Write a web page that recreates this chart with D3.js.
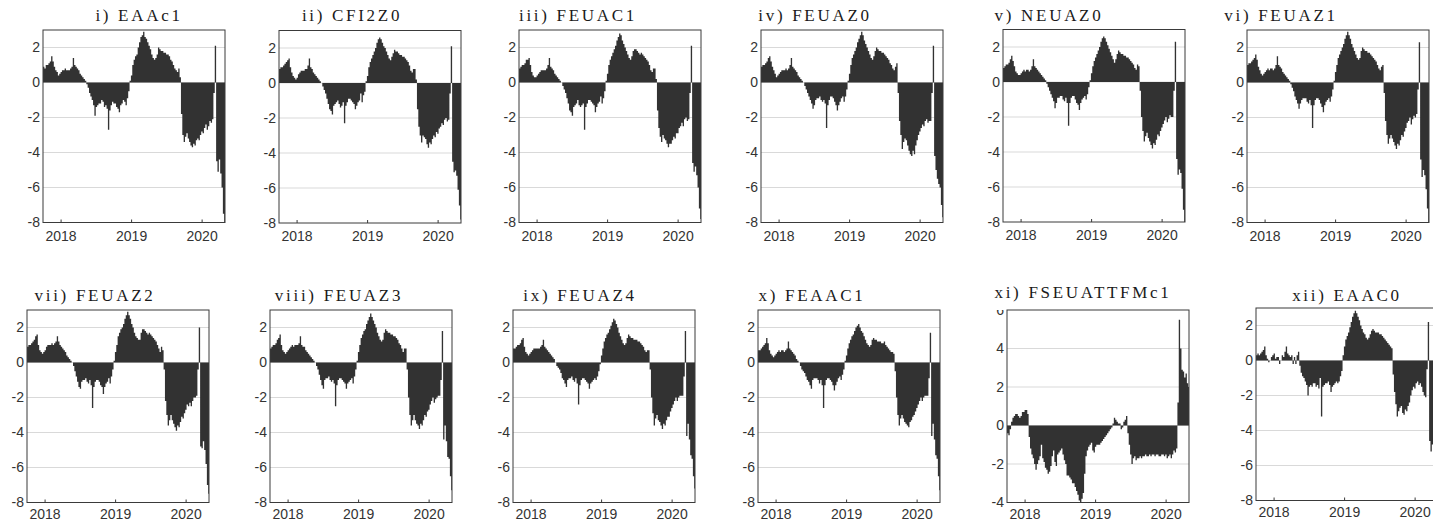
<!DOCTYPE html>
<html>
<head>
<meta charset="utf-8">
<script src="https://cdn.jsdelivr.net/npm/d3@7"></script>
<style>
  html, body { margin: 0; padding: 0; background: #fff; }
  svg { display: block; }
  .tick text { font-family: "Liberation Sans", Arial, sans-serif; font-size: 14px; fill: #333; }
  .title { font-family: "Liberation Serif", "Times New Roman", serif; font-size: 17px; letter-spacing: 2.7px; fill: #1a1a1a; }
</style>
</head>
<body>
<svg id="chart" width="1433" height="528"></svg>
<script>
// Panel titles
const titles = ["i) EAAc1", "ii) CFI2Z0", "iii) FEUAC1", "iv) FEUAZ0", "v) NEUAZ0", "vi) FEUAZ1",
                "vii) FEUAZ2", "viii) FEUAZ3", "ix) FEUAZ4", "x) FEAAC1", "xi) FSEUATTFMc1", "xii) EAAC0"];

// Weekly observations, first week starting 2 Oct 2017
const firstWeek = "2017-10-02";
const endDate = "2020-05-01";
const yearTicks = ["2018-01-01", "2019-01-01", "2020-01-01"];
const yearLabels = ["2018", "2019", "2020"];

const ticksWide = [-8, -6, -4, -2, 0, 2];
const ticksNarrow = [-4, -2, 0, 2, 4, 6];
const domainWide = [-8, 3];
const domainNarrow = [-4, 6];

const sEAAc1 = [0.9,0.8,1.0,1.0,1.1,1.2,1.5,1.2,0.9,0.7,
0.6,0.4,0.5,0.6,0.7,0.7,0.8,0.7,0.7,0.7,
0.8,0.9,1.4,1.0,0.9,0.8,0.7,0.5,0.4,0.3,
0.2,0.1,-0.1,-0.3,-0.6,-0.8,-1.0,-1.3,-1.9,-1.4,
-1.3,-1.2,-1.2,-1.0,-1.1,-1.4,-1.3,-1.5,-2.7,-1.6,
-1.3,-1.1,-1.2,-1.2,-1.4,-1.5,-1.7,-1.3,-1.2,-1.0,
-1.1,-1.3,-0.9,-0.5,0.1,0.4,1.0,1.3,1.5,1.6,
2.0,2.3,2.6,2.7,2.9,2.6,2.5,2.3,2.1,1.9,
1.6,1.4,1.3,1.4,1.6,2.0,1.9,1.8,1.8,1.7,
1.7,1.6,1.6,1.5,1.3,1.2,1.0,0.8,0.7,0.6,
0.8,0.3,-1.8,-3.0,-3.4,-3.1,-2.9,-3.2,-3.4,-3.6,
-3.7,-3.5,-3.6,-3.3,-3.2,-3.3,-3.0,-2.8,-2.9,-2.6,
-2.4,-2.7,-2.5,-2.2,-2.3,-2.1,-0.6,2.1,-4.5,-5.1,
-4.4,-5.2,-6.0,-7.5,-8.0];

const sCFI2Z0 = [0.8,0.9,0.9,1.0,1.1,1.2,1.3,1.4,0.9,0.6,
0.4,0.3,0.2,0.3,0.5,0.6,0.7,0.7,0.7,0.8,
0.8,1.0,1.4,0.9,0.8,0.6,0.5,0.4,0.3,0.2,
0.1,0.0,-0.2,-0.4,-0.6,-0.9,-1.2,-1.5,-1.6,-1.8,
-1.3,-1.2,-1.1,-1.0,-1.2,-1.4,-1.3,-1.1,-2.3,-1.3,
-1.1,-0.9,-0.9,-1.0,-1.1,-1.2,-1.5,-1.3,-1.1,-1.0,
-0.6,-1.1,-0.7,-0.5,0.1,0.4,0.9,1.2,1.4,1.6,
1.8,2.0,2.3,2.5,2.6,2.5,2.3,2.1,2.0,1.8,
1.6,1.4,1.3,1.5,1.7,1.9,1.8,1.8,1.7,1.6,
1.6,1.5,1.5,1.4,1.3,1.2,1.0,0.7,0.6,0.8,
0.8,0.2,-1.5,-2.5,-3.0,-3.4,-3.0,-3.1,-3.2,-3.5,
-3.7,-3.4,-3.5,-3.2,-3.0,-3.1,-2.8,-2.9,-2.6,-2.5,
-2.3,-2.4,-2.1,-2.0,-2.2,-2.1,-0.6,2.1,-4.5,-5.1,
-5.0,-5.3,-6.1,-7.0,-7.8];

const sFEUAC1 = [0.8,0.9,1.0,1.0,1.1,1.3,1.3,1.4,1.0,0.6,
0.4,0.3,0.3,0.4,0.5,0.6,0.7,0.7,0.7,0.7,
0.8,1.0,1.4,0.9,0.8,0.7,0.5,0.4,0.3,0.2,
0.1,0.0,-0.2,-0.4,-0.6,-0.9,-1.2,-1.6,-1.7,-1.9,
-1.4,-1.3,-1.2,-1.0,-1.3,-1.4,-1.3,-1.2,-2.7,-1.4,
-1.2,-1.0,-1.0,-1.1,-1.2,-1.3,-1.7,-1.4,-1.2,-1.1,
-0.8,-1.2,-0.9,-0.5,0.1,0.5,1.0,1.3,1.5,1.7,
1.9,2.1,2.4,2.6,2.8,2.7,2.4,2.2,2.0,1.8,
1.6,1.4,1.3,1.5,1.8,1.9,1.9,1.8,1.7,1.6,
1.7,1.6,1.5,1.4,1.3,1.2,1.0,0.7,0.6,0.8,
0.8,0.2,-1.6,-2.6,-3.1,-3.4,-3.0,-3.2,-3.3,-3.5,
-3.7,-3.5,-3.5,-3.3,-3.1,-3.2,-2.9,-2.9,-2.6,-2.5,
-2.3,-2.5,-2.1,-2.0,-2.2,-2.1,-0.6,2.1,-4.6,-5.1,
-4.8,-5.3,-6.0,-7.2,-7.8];

const sFEUAZ0 = [0.9,1.0,1.0,1.1,1.2,1.4,1.5,1.2,0.9,0.7,
0.5,0.3,0.4,0.5,0.6,0.7,0.7,0.7,0.8,0.7,
0.8,1.0,1.4,0.9,0.8,0.7,0.6,0.4,0.3,0.2,
0.1,0.0,-0.2,-0.4,-0.6,-0.8,-1.0,-1.2,-1.5,-1.3,
-1.0,-0.9,-0.9,-0.8,-1.0,-1.1,-1.0,-1.2,-2.6,-1.3,
-1.0,-0.8,-0.8,-0.9,-1.1,-1.3,-1.6,-1.3,-1.1,-0.9,
-0.8,-1.1,-0.8,-0.4,0.1,0.5,1.0,1.4,1.6,1.8,
2.0,2.3,2.5,2.7,2.9,2.7,2.4,2.2,2.0,1.8,
1.6,1.4,1.3,1.5,1.8,2.0,1.9,1.8,1.8,1.7,
1.7,1.6,1.5,1.4,1.3,1.1,1.0,0.8,0.7,0.9,
1.1,-0.6,-2.2,-3.0,-3.8,-3.4,-3.2,-3.3,-3.6,-3.9,
-4.1,-4.2,-3.9,-4.1,-3.6,-3.3,-3.0,-2.8,-2.6,-2.4,
-2.5,-2.2,-2.1,-2.3,-2.2,-2.2,-0.6,2.1,-4.2,-5.0,
-5.5,-5.8,-6.0,-7.0,-7.7];

const sNEUAZ0 = [0.8,0.9,1.0,1.0,1.1,1.3,1.5,1.2,0.9,0.6,
0.5,0.4,0.4,0.5,0.6,0.7,0.6,0.7,0.7,0.6,
0.7,0.9,1.3,0.9,0.8,0.7,0.6,0.5,0.4,0.3,
0.2,0.1,-0.1,-0.3,-0.5,-0.7,-0.9,-1.1,-1.5,-1.2,
-0.9,-0.9,-0.8,-0.8,-1.0,-1.1,-0.9,-1.2,-2.5,-1.2,
-0.9,-0.8,-0.8,-1.0,-1.2,-1.3,-1.6,-1.2,-1.0,-0.9,
-0.8,-1.0,-0.7,-0.3,0.1,0.5,0.9,1.2,1.4,1.6,
1.8,2.0,2.3,2.5,2.6,2.5,2.3,2.1,1.9,1.7,
1.5,1.3,1.1,1.3,1.6,1.8,1.7,1.6,1.6,1.5,
1.5,1.4,1.4,1.3,1.2,1.1,1.0,0.8,0.7,1.0,
0.9,-0.5,-2.0,-2.8,-3.4,-3.1,-2.9,-3.2,-3.4,-3.6,
-3.8,-3.5,-3.6,-3.3,-3.0,-3.1,-2.8,-2.6,-2.4,-2.2,
-2.0,-2.3,-2.1,-1.9,-2.0,-2.0,-0.5,2.3,-4.4,-5.3,
-5.0,-5.2,-6.1,-7.3,-8.0];

const sFEUAZ1 = [1.0,1.1,1.1,1.2,1.3,1.4,1.6,1.3,0.9,0.7,
0.5,0.4,0.5,0.6,0.7,0.8,0.7,0.8,0.8,0.7,
0.8,1.0,1.5,1.0,0.9,0.8,0.6,0.5,0.4,0.3,
0.2,0.1,-0.1,-0.3,-0.5,-0.8,-1.0,-1.2,-1.5,-1.2,
-1.0,-0.9,-0.9,-0.9,-1.1,-1.2,-1.0,-1.3,-2.6,-1.3,
-1.0,-0.9,-0.9,-1.0,-1.2,-1.4,-1.7,-1.3,-1.1,-1.0,
-0.9,-1.1,-0.8,-0.4,0.1,0.6,1.0,1.4,1.6,1.8,
2.0,2.2,2.5,2.7,2.9,2.7,2.5,2.2,2.0,1.8,
1.6,1.4,1.3,1.4,1.8,2.0,1.9,1.8,1.8,1.7,
1.7,1.6,1.5,1.4,1.3,1.2,1.0,0.8,0.7,0.9,
1.0,-0.6,-2.2,-3.0,-3.5,-3.2,-3.0,-3.2,-3.4,-3.6,
-3.8,-3.5,-3.6,-3.3,-3.0,-3.1,-2.8,-2.6,-2.3,-2.2,
-2.0,-2.4,-2.1,-1.9,-2.0,-1.8,-0.4,2.3,-4.4,-5.4,
-5.0,-5.3,-6.1,-7.2,-8.0];

const sFEUAZ2 = [0.9,1.0,1.0,1.1,1.2,1.3,1.5,1.6,1.0,0.7,
0.6,0.5,0.6,0.7,0.9,1.0,1.0,1.0,1.1,1.0,
1.1,1.2,1.5,1.2,1.0,0.9,0.8,0.7,0.6,0.4,
0.3,0.2,0.1,0.0,-0.2,-0.5,-0.8,-1.1,-1.4,-1.5,
-1.1,-1.0,-1.0,-0.9,-1.1,-1.2,-1.0,-1.3,-2.6,-1.4,
-1.1,-1.0,-1.0,-1.1,-1.3,-1.4,-1.8,-1.4,-1.2,-1.1,
-0.9,-1.2,-0.8,-0.4,0.1,0.6,1.0,1.5,1.7,1.9,
2.0,2.2,2.5,2.7,2.9,2.7,2.5,2.2,2.0,1.7,
1.5,1.4,1.3,1.3,1.7,1.9,1.9,1.8,1.7,1.6,
1.7,1.6,1.5,1.4,1.3,1.2,1.0,0.8,0.6,0.9,
0.7,-0.4,-2.2,-3.0,-3.6,-3.3,-3.0,-3.3,-3.5,-3.7,
-3.9,-3.6,-3.7,-3.4,-3.1,-3.2,-2.9,-2.7,-2.4,-2.5,
-2.3,-2.5,-2.2,-2.0,-2.0,-1.9,-0.4,2.0,-4.8,-4.9,
-4.5,-5.0,-5.8,-7.0,-7.5];

const sFEUAZ3 = [0.8,0.9,1.0,1.0,1.1,1.3,1.4,1.6,1.0,0.7,
0.6,0.5,0.6,0.7,0.8,0.9,1.0,0.9,1.0,1.0,
1.0,1.1,1.5,1.0,0.9,0.9,0.7,0.6,0.5,0.4,
0.3,0.2,0.1,0.0,-0.2,-0.4,-0.7,-1.0,-1.3,-1.5,
-1.0,-0.9,-0.9,-0.8,-1.0,-1.1,-1.0,-1.2,-2.5,-1.3,
-1.0,-0.9,-0.9,-1.0,-1.1,-1.2,-1.5,-1.2,-1.1,-1.0,
-0.9,-1.2,-0.8,-0.4,0.1,0.6,1.0,1.4,1.6,1.8,
1.9,2.2,2.4,2.6,2.8,2.6,2.4,2.2,2.0,1.7,
1.5,1.3,1.2,1.3,1.7,1.9,1.8,1.7,1.7,1.6,
1.6,1.5,1.5,1.4,1.3,1.1,1.0,0.8,0.6,0.8,
0.8,-0.4,-2.0,-3.0,-3.6,-3.3,-3.0,-3.3,-3.5,-3.6,
-3.8,-3.5,-3.6,-3.3,-3.0,-3.1,-2.8,-2.7,-2.4,-2.2,
-2.0,-2.3,-2.1,-2.0,-1.9,-1.9,-1.0,1.8,-4.4,-3.6,
-4.5,-5.4,-5.5,-6.5,-7.3];

const sFEUAZ4 = [0.8,0.8,0.9,1.0,1.0,1.1,1.3,1.4,0.9,0.6,
0.5,0.4,0.5,0.6,0.7,0.8,0.8,0.8,0.8,0.8,
0.9,1.0,1.3,0.9,0.8,0.7,0.6,0.5,0.4,0.3,
0.2,0.0,-0.2,-0.3,-0.4,-0.6,-0.9,-1.0,-1.2,-1.4,
-1.0,-0.9,-0.9,-0.8,-1.0,-1.1,-0.9,-1.2,-2.4,-1.3,
-1.0,-0.9,-0.9,-1.0,-1.1,-1.2,-1.5,-1.2,-1.1,-1.0,
-0.9,-1.0,-0.8,-0.5,-0.1,0.4,0.8,1.2,1.4,1.6,
1.7,1.9,2.1,2.3,2.5,2.4,2.2,2.0,1.7,1.5,
1.3,1.1,1.0,1.1,1.4,1.6,1.5,1.4,1.4,1.3,
1.3,1.3,1.2,1.2,1.1,1.0,0.9,0.7,0.6,0.7,
0.7,-0.4,-2.0,-2.9,-3.6,-3.2,-3.0,-3.3,-3.4,-3.6,
-3.8,-3.5,-3.6,-3.3,-3.1,-3.1,-2.8,-2.6,-2.4,-2.2,
-2.0,-2.2,-2.0,-1.9,-1.9,-1.9,-0.8,1.8,-4.2,-3.5,
-4.4,-5.3,-5.5,-6.5,-7.2];

const sFEAAC1 = [0.7,0.7,0.8,0.9,1.0,1.1,1.4,1.1,0.7,0.5,
0.4,0.3,0.4,0.5,0.6,0.7,0.6,0.7,0.7,0.6,
0.7,0.8,1.2,0.8,0.7,0.6,0.5,0.4,0.2,0.1,
0.0,-0.2,-0.4,-0.5,-0.6,-0.8,-1.0,-1.1,-1.3,-1.5,
-1.0,-0.9,-0.9,-0.9,-1.0,-1.2,-1.0,-1.3,-2.6,-1.3,
-1.0,-0.9,-0.9,-1.0,-1.1,-1.3,-1.6,-1.3,-1.1,-0.9,
-0.8,-1.0,-0.7,-0.4,0.1,0.4,0.8,1.1,1.3,1.5,
1.6,1.8,2.0,2.1,2.2,2.0,1.8,1.7,1.5,1.3,
1.1,1.0,0.9,1.0,1.3,1.4,1.3,1.3,1.2,1.2,
1.2,1.1,1.1,1.2,1.0,0.9,0.8,0.7,0.6,0.6,
0.5,-0.5,-2.0,-3.0,-3.6,-3.2,-3.0,-3.2,-3.4,-3.5,
-3.6,-3.7,-3.4,-3.3,-3.1,-3.0,-2.8,-2.6,-2.4,-2.2,
-2.0,-2.2,-2.0,-1.9,-1.9,-1.9,-0.9,1.7,-4.2,-3.5,
-4.4,-5.3,-5.5,-6.5,-7.3];

const sFSEUATTFMc1 = [-0.4,-0.5,-0.2,0.2,0.4,0.5,0.6,0.6,0.5,0.4,
0.5,0.7,0.7,0.8,0.8,0.6,-0.6,-1.2,-1.5,-1.7,
-2.0,-2.3,-2.0,-1.8,-1.6,-1.0,-1.7,-1.9,-2.2,-2.3,
-2.5,-2.4,-2.1,-1.6,-1.3,-1.9,-2.1,-1.5,-1.4,-1.3,
-1.2,-1.5,-1.8,-2.0,-2.6,-2.6,-2.7,-2.8,-3.0,-3.0,
-3.2,-3.4,-3.6,-3.9,-4.0,-3.8,-3.5,-2.5,-1.6,-1.3,
-1.1,-1.0,-0.9,-1.3,-1.4,-1.1,-1.0,-1.0,-1.0,-0.9,
-0.8,-0.7,-0.6,-0.5,-0.4,-0.3,-0.2,-0.1,0.1,0.4,
0.3,0.2,0.1,0.1,-0.2,-0.1,0.2,0.3,0.5,-0.4,
-1.0,-1.5,-2.0,-1.7,-1.6,-1.8,-1.7,-1.7,-1.6,-1.7,
-1.6,-1.6,-1.5,-1.6,-1.6,-1.5,-1.6,-1.5,-1.5,-1.6,
-1.5,-1.5,-1.6,-1.6,-1.5,-1.5,-1.6,-1.5,-1.7,-1.6,
-1.5,-1.7,-1.5,-1.3,-1.4,-1.2,1.2,5.5,4.0,2.9,
2.8,2.5,2.7,2.2,2.0];

const sEAAC0 = [0.3,0.4,0.3,0.4,0.5,0.6,0.8,0.3,0.1,-0.1,
0.0,0.2,0.3,0.4,0.1,0.2,0.2,-0.2,0.0,0.3,
0.2,0.5,0.8,0.4,0.3,0.2,0.3,-0.2,0.2,-0.2,
0.3,0.5,-0.3,-0.7,-0.9,-1.0,-1.2,-1.4,-2.0,-1.5,
-1.4,-1.5,-1.3,-1.3,-1.5,-1.4,-1.6,-1.0,-3.2,-1.5,
-1.4,-1.3,-1.3,-1.2,-1.4,-1.8,-1.5,-1.4,-1.3,-1.2,
-1.3,-1.2,-0.9,-0.6,0.3,0.8,1.2,1.4,1.6,1.9,
2.2,2.5,2.7,2.85,2.7,2.5,2.3,2.0,1.8,1.6,
1.5,1.3,1.2,1.3,1.5,1.7,1.8,1.7,1.6,1.6,
1.6,1.5,1.5,1.4,1.3,1.2,1.1,1.0,0.9,0.8,
0.7,-0.8,-1.8,-2.5,-3.2,-2.9,-2.7,-2.6,-3.0,-3.1,
-2.8,-2.9,-2.6,-2.4,-2.0,-1.7,-1.5,-1.6,-1.3,-1.2,
-1.4,-1.3,-1.5,-1.8,-2.0,-2.1,-0.5,2.2,-4.6,-5.2,
-4.8,-5.3,-6.0,-7.2,-7.8];

const seriesList = [sEAAc1, sCFI2Z0, sFEUAC1, sFEUAZ0, sNEUAZ0, sFEUAZ1,
                    sFEUAZ2, sFEUAZ3, sFEUAZ4, sFEAAC1, sFSEUATTFMc1, sEAAC0];

// Panel placement on the page (two rows of six)
const layout = [
  {left: 43,   top: 30,   titleY: 21},
  {left: 279,  top: 30.5, titleY: 21},
  {left: 519,  top: 30,   titleY: 21},
  {left: 761,  top: 30,   titleY: 21},
  {left: 1003, top: 29.5, titleY: 21},
  {left: 1247, top: 30,   titleY: 21},
  {left: 27,   top: 310,  titleY: 300.5},
  {left: 270,  top: 310,  titleY: 300.5},
  {left: 513,  top: 310,  titleY: 300.5},
  {left: 758,  top: 310,  titleY: 300.5},
  {left: 1007, top: 310,  titleY: 298},
  {left: 1256, top: 308,  titleY: 300.5}
];
const titleX = [139, 352, 578, 815, 1049, 1281, 95, 339, 580, 812, 1083, 1347];
const panelW = 182, panelH = 192.5;
const barColor = "#323232";

const svg = d3.select("#chart");
svg.append("rect").attr("width", 1433).attr("height", 528).attr("fill", "#fff");

const parse = d3.utcParse("%Y-%m-%d");
const start = parse(firstWeek);
const x = d3.scaleUtc().domain([start, parse(endDate)]).range([0, panelW]);
const yearDates = yearTicks.map(parse);

seriesList.forEach((vals, k) => {
  const L = layout[k];
  const narrow = k === 10;
  const y = d3.scaleLinear().domain(narrow ? domainNarrow : domainWide).range([panelH, 0]);
  const tv = narrow ? ticksNarrow : ticksWide;

  const g = svg.append("g").attr("transform", `translate(${L.left},${L.top})`);

  const clipId = "clip" + k;
  g.append("clipPath").attr("id", clipId)
    .append("rect").attr("x", 0).attr("y", 0).attr("width", panelW).attr("height", panelH);
  const labelClip = "lclip" + k;
  g.append("clipPath").attr("id", labelClip)
    .append("rect").attr("x", -60).attr("y", 0).attr("width", 60).attr("height", panelH + 40);

  // horizontal grid
  g.append("g").selectAll("line")
    .data(tv.filter(t => y(t) > 0.5 && y(t) < panelH - 0.5))
    .join("line")
    .attr("x1", 0).attr("x2", panelW)
    .attr("y1", d => y(d)).attr("y2", d => y(d))
    .attr("stroke", "#d9d9d9").attr("stroke-width", 1);

  // weekly bars, drawn as one stepped shape so neighbouring bars join cleanly
  const data = vals.map((v, i) => ({ d: d3.utcDay.offset(start, 7 * i), v }));
  data.push({ d: d3.utcDay.offset(start, 7 * vals.length), v: vals[vals.length - 1] });
  const bars = d3.area()
    .curve(d3.curveStepAfter)
    .x(d => x(d.d))
    .y0(y(0))
    .y1(d => y(d.v));
  g.append("path")
    .attr("clip-path", `url(#${clipId})`)
    .attr("d", bars(data))
    .attr("fill", barColor);

  // frame
  g.append("rect").attr("x", 0).attr("y", 0).attr("width", panelW).attr("height", panelH)
    .attr("fill", "none").attr("stroke", "#3a3a3a").attr("stroke-width", 1);

  // y axis labels
  const ya = g.append("g").attr("clip-path", `url(#${labelClip})`)
    .call(d3.axisLeft(y).tickValues(tv).tickSize(0).tickPadding(3).tickFormat(d => String(d)));
  ya.select(".domain").remove();

  // x axis with inward year ticks
  const xa = g.append("g").attr("transform", `translate(0,${panelH})`)
    .call(d3.axisBottom(x).tickValues(yearDates).tickSize(-3)
      .tickPadding(k < 6 ? 8.5 : 6.5)
      .tickFormat((d, i) => yearLabels[i]));
  xa.select(".domain").remove();
  xa.selectAll(".tick line").attr("stroke", "#3a3a3a");

  // title
  svg.append("text").attr("class", "title")
    .attr("x", titleX[k]).attr("y", L.titleY)
    .attr("text-anchor", "middle")
    .text(titles[k]);
});
</script>
</body>
</html>
